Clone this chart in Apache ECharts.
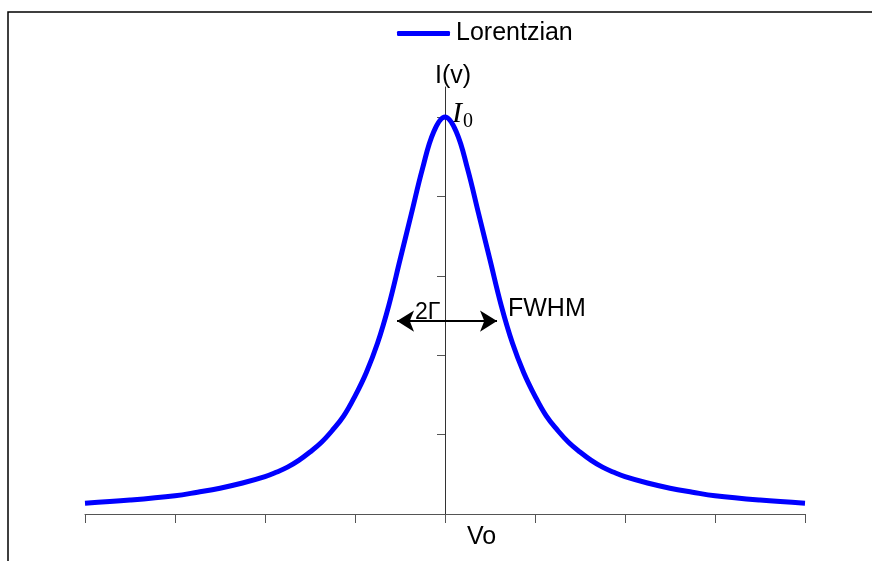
<!DOCTYPE html>
<html>
<head>
<meta charset="utf-8">
<script src="https://cdn.jsdelivr.net/npm/echarts@6/dist/echarts.min.js"></script>
<style>html,body{margin:0;padding:0;background:#fff;}#c{width:872px;height:561px;}</style>
</head>
<body>
<div id="c"></div>
<script>
// Frequency offsets (in units of the x-axis tick spacing), centred on Vo
const xValues = [-4, -3.5, -3, -2.75, -2.5, -2.25, -2, -1.875, -1.75, -1.625, -1.5, -1.375, -1.25, -1.125, -1, -0.875, -0.75, -0.625, -0.5, -0.375, -0.25, -0.125, 0,
                 0.125, 0.25, 0.375, 0.5, 0.625, 0.75, 0.875, 1, 1.125, 1.25, 1.375, 1.5, 1.625, 1.75, 1.875, 2, 2.25, 2.5, 2.75, 3, 3.5, 4];
// Intensity I(v) relative to I0
const lorentzian = [0.027, 0.035, 0.046, 0.055, 0.065, 0.078, 0.094, 0.105, 0.118, 0.135, 0.156, 0.18, 0.211, 0.247, 0.297, 0.356, 0.43, 0.525, 0.64, 0.755, 0.87, 0.963, 1,
                    0.963, 0.87, 0.755, 0.64, 0.525, 0.43, 0.356, 0.297, 0.247, 0.211, 0.18, 0.156, 0.135, 0.118, 0.105, 0.094, 0.078, 0.065, 0.055, 0.046, 0.035, 0.027];
const yTicks = [0, 0.2, 0.4, 0.6, 0.8, 1.0];
const halfMax = 0.486;
const fwhmLeft = -0.533;
const fwhmRight = 0.578;
const seriesName = 'Lorentzian';

const chart = echarts.init(document.getElementById('c'));
const font = 'Liberation Sans, Arial, sans-serif';
chart.setOption({
  animation: false,
  backgroundColor: '#fff',
  legend: {
    show: true, left: 397, top: 21, padding: 0,
    icon: 'roundRect',
    itemWidth: 53, itemHeight: 5, itemGap: 10,
    itemStyle: {color: '#0000ff'},
    textStyle: {fontFamily: font, fontSize: 25, color: '#000', padding: [0, 0, 0, 1]},
    data: [seriesName]
  },
  grid: {left: 85, right: 67, top: 87, bottom: 47},
  xAxis: {
    type: 'value', min: -4, max: 4, interval: 1,
    axisLine: {show: true, onZero: true, lineStyle: {color: '#555', width: 1}},
    axisTick: {show: true, length: 9, lineStyle: {color: '#555'}},
    axisLabel: {show: false},
    splitLine: {show: false}
  },
  yAxis: {
    type: 'value', min: 0, max: 1.0756,
    axisLine: {show: true, onZero: true, lineStyle: {color: '#333', width: 1}},
    axisTick: {show: true, length: 8, customValues: yTicks, lineStyle: {color: '#555'}},
    axisLabel: {show: false},
    splitLine: {show: false}
  },
  series: [{
    name: seriesName,
    type: 'line',
    smooth: 0.4,
    symbol: 'none',
    lineStyle: {color: '#0000ff', width: 5},
    itemStyle: {color: '#0000ff'},
    data: xValues.map((x, i) => [x, lorentzian[i]]),
    markLine: {
      silent: true,
      symbol: ['arrow', 'arrow'],
      symbolSize: [16, 17],
      label: {show: false},
      lineStyle: {color: '#000', width: 2, type: 'solid'},
      data: [[{coord: [fwhmLeft, halfMax]}, {coord: [fwhmRight, halfMax]}]]
    }
  }],
  graphic: [
    {type: 'rect', shape: {x: 8, y: 12, width: 1000, height: 1000}, style: {fill: 'none', stroke: '#000', lineWidth: 1.5}, silent: true},
    {type: 'text', style: {text: 'I(v)', x: 435, y: 76, textVerticalAlign: 'middle', font: '25px ' + font, fill: '#000'}},
    {type: 'text', style: {text: 'I', x: 452, y: 114, textVerticalAlign: 'middle', font: 'italic 30px Liberation Serif, serif', fill: '#000'}},
    {type: 'text', style: {text: '0', x: 463, y: 122, textVerticalAlign: 'middle', font: '20px Liberation Serif, serif', fill: '#000'}},
    {type: 'text', style: {text: '2Γ', x: 415, y: 313, textVerticalAlign: 'middle', font: '23px ' + font, fill: '#000'}},
    {type: 'text', style: {text: 'FWHM', x: 508, y: 309, textVerticalAlign: 'middle', font: '25px ' + font, fill: '#000'}},
    {type: 'text', style: {text: 'Vo', x: 467, y: 537, textVerticalAlign: 'middle', font: '25px ' + font, fill: '#000'}}
  ]
});
</script>
</body>
</html>
